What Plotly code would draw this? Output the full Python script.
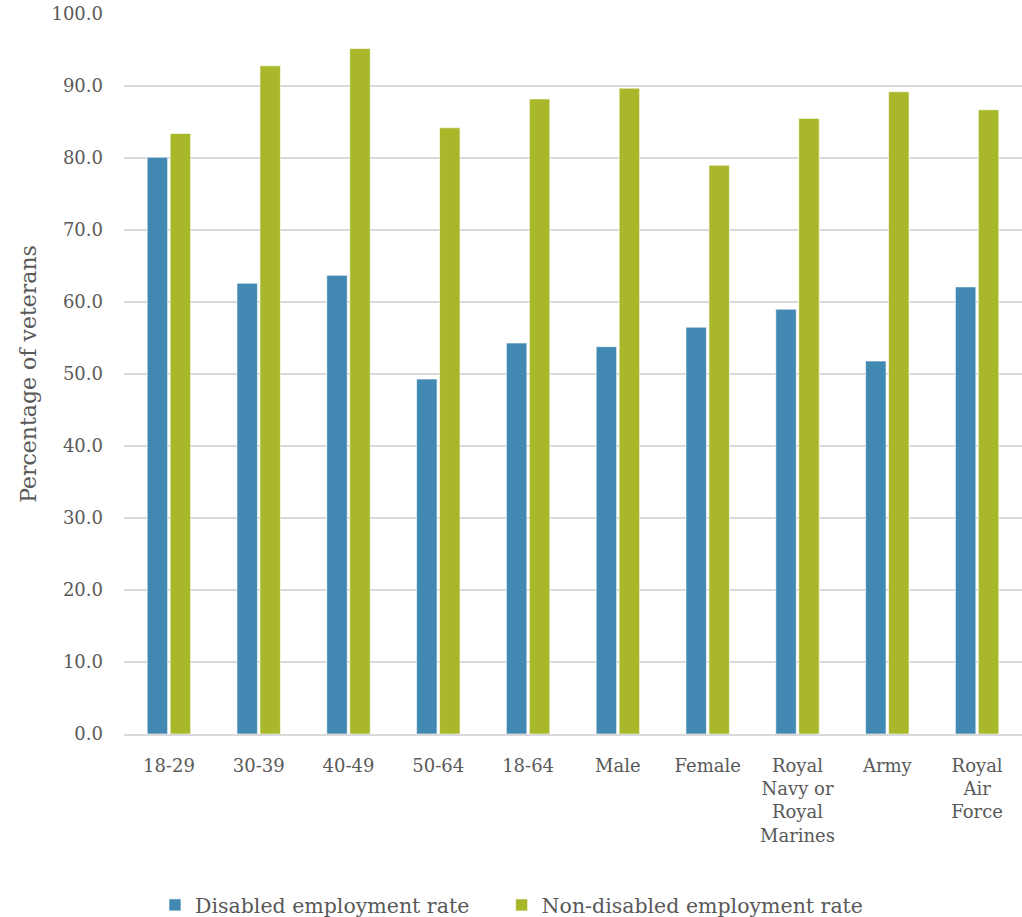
import plotly.graph_objects as go

# Employment rates of veterans by group
categories = [
    "18-29", "30-39", "40-49", "50-64", "18-64", "Male", "Female",
    "Royal<br>Navy or<br>Royal<br>Marines", "Army", "Royal<br>Air<br>Force",
]
disabled_rate = [80.1, 62.6, 63.7, 49.3, 54.3, 53.8, 56.5, 59.0, 51.8, 62.1]
non_disabled_rate = [83.4, 92.8, 95.2, 84.2, 88.2, 89.7, 79.0, 85.5, 89.2, 86.7]
y_ticks = [0, 10, 20, 30, 40, 50, 60, 70, 80, 90, 100]

BLUE = "#4189B3"
GREEN = "#A8B82A"
TEXT = "#595959"
GRID = "#D9D9D9"
FONT = "DejaVu Serif"

fig = go.Figure()
fig.add_trace(go.Bar(
    name="Disabled employment rate", x=categories, y=disabled_rate,
    marker=dict(color=BLUE, line=dict(color="rgba(255,255,255,0.6)", width=1)),
    legend="legend",
))
fig.add_trace(go.Bar(
    name="Non-disabled employment rate", x=categories, y=non_disabled_rate,
    marker=dict(color=GREEN, line=dict(color="rgba(255,255,255,0.6)", width=1)),
    legend="legend2",
))

legend_style = dict(
    orientation="h", xanchor="left",
    yref="container", y=0.013, yanchor="middle",
    font=dict(family=FONT, size=20.5, color=TEXT),
    itemwidth=30, bgcolor="rgba(0,0,0,0)",
)

fig.update_layout(
    width=1022, height=917,
    margin=dict(l=124, r=0, t=14, b=183),
    paper_bgcolor="white", plot_bgcolor="white",
    barmode="group", bargap=0.488, bargroupgap=0.11,
    font=dict(family=FONT, color=TEXT, size=18),
    showlegend=True,
    legend=dict(x=0.0345, **legend_style),
    legend2=dict(x=0.4205, **legend_style),
)
fig.update_yaxes(
    range=[0, 100], tickvals=y_ticks, tickformat=".1f",
    showgrid=True, gridcolor=GRID, gridwidth=2,
    zeroline=False, showline=False,
    ticks="", ticklabelstandoff=20,
    tickfont=dict(family=FONT, size=18, color=TEXT),
    title=dict(text="Percentage of veterans", font=dict(family=FONT, size=22, color=TEXT), standoff=8),
)
fig.update_xaxes(
    showline=True, linecolor=GRID, linewidth=2,
    showgrid=False, ticks="", ticklabelstandoff=14,
    tickfont=dict(family=FONT, size=18, color=TEXT),
)

fig.write_html("out.html")
